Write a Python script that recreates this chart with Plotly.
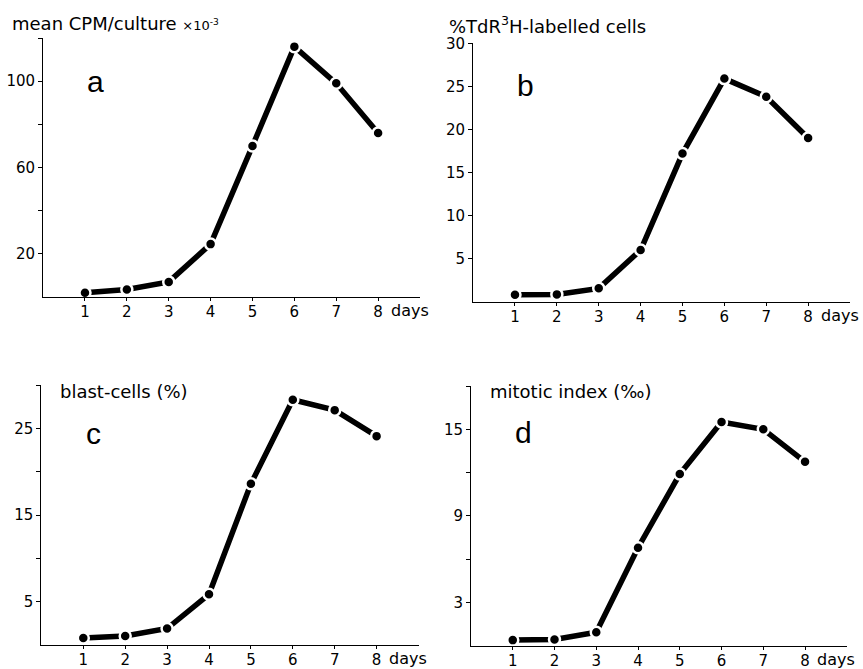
import plotly.graph_objects as go

days = [1, 2, 3, 4, 5, 6, 7, 8]
cpm = [2, 3.5, 7, 24.5, 70, 116, 99, 76]
labelled = [0.8, 0.85, 1.55, 6.0, 17.2, 25.9, 23.8, 19.0]
blast = [0.8, 1.05, 1.9, 5.85, 18.6, 28.3, 27.1, 24.1]
mitotic = [0.4, 0.45, 0.95, 6.8, 11.9, 15.5, 15.0, 12.75]

xticks = [1, 2, 3, 4, 5, 6, 7, 8]
xticktext = ["1", "2", "3", "4", "5", "6", "7", "8"]

a_tickvals = [20, 40, 60, 80, 100, 120]
a_ticktext = ["20", " ", "60", " ", "100", " "]
b_tickvals = [5, 10, 15, 20, 25, 30]
b_ticktext = ["5", "10", "15", "20", "25", "30"]
c_tickvals = [5, 10, 15, 20, 25, 30]
c_ticktext = ["5", " ", "15", " ", "25", " "]
d_tickvals = [3, 6, 9, 12, 15, 18]
d_ticktext = ["3", " ", "9", " ", "15", " "]

W, H = 863, 669
FONT = "DejaVu Sans, sans-serif"
LFONT = "Liberation Sans, Arial, sans-serif"


def px(x):
    return x / W


def py(y):
    return 1 - y / H


panels = [
    (cpm, (43.1, 420), (297, 38), 120, a_tickvals, a_ticktext, "a", (95, 82),
     "mean CPM/culture <span style='font-size:13px'>×10<sup>-3</sup></span>", (10, 23)),
    (labelled, (473.1, 850), (301.7, 43.3), 30, b_tickvals, b_ticktext, "b", (525, 85),
     "%TdR<sup>3</sup>H-labelled cells", (447, 25)),
    (blast, (41.4, 418.5), (645, 385), 30, c_tickvals, c_ticktext, "c", (93, 433),
     "blast-cells (%)", (58, 392)),
    (mitotic, (471, 846.8), (645.9, 386), 18, d_tickvals, d_ticktext, "d", (523, 432),
     "mitotic index (‰)", (488, 392)),
]

fig = go.Figure()
annotations = []
layout = {}
for i, (vals, xd, yd, ymax, tv, tt, letter, lpos, title, tpos) in enumerate(panels):
    n = "" if i == 0 else str(i + 1)
    fig.add_trace(go.Scatter(
        x=days, y=vals, mode="lines+markers",
        xaxis="x" + n, yaxis="y" + n,
        line=dict(color="black", width=5.5),
        marker=dict(color="black", size=11, line=dict(color="white", width=2.5)),
        showlegend=False, cliponaxis=False,
    ))
    layout["xaxis" + n] = dict(
        domain=[px(xd[0]), px(xd[1])], range=[0, 9], anchor="y" + n,
        tickvals=xticks, ticktext=xticktext, ticks="outside", ticklen=3,
        ticklabelstandoff=-2,
        tickwidth=1, tickcolor="black", showline=True, linecolor="black",
        linewidth=1, showgrid=False, zeroline=False, automargin=False,
        tickfont=dict(family=FONT, size=15, color="black"),
    )
    layout["yaxis" + n] = dict(
        domain=[py(yd[0]), py(yd[1])], range=[0, ymax], anchor="x" + n,
        tickvals=tv, ticktext=tt, ticks="outside", ticklen=4,
        tickwidth=1, tickcolor="black", showline=True, linecolor="black",
        linewidth=1, showgrid=False, zeroline=False, automargin=False,
        tickfont=dict(family=FONT, size=15, color="black"),
    )
    annotations.append(dict(
        text=letter, x=px(lpos[0]), y=py(lpos[1]), xref="paper", yref="paper",
        xanchor="center", yanchor="middle", showarrow=False,
        font=dict(family=LFONT, size=30, color="black"),
    ))
    annotations.append(dict(
        text=title, x=px(tpos[0]), y=py(tpos[1]), xref="paper", yref="paper",
        xanchor="left", yanchor="middle", showarrow=False,
        font=dict(family=FONT, size=18, color="black"),
    ))
    annotations.append(dict(
        text="days", x=8.25, y=0, xref="x" + n, yref=("y" + n + " domain") if n else "y domain",
        xanchor="left", yanchor="top", yshift=-2, showarrow=False,
        font=dict(family=FONT, size=16, color="black"),
    ))

fig.update_layout(
    width=W, height=H, autosize=False,
    margin=dict(l=0, r=0, t=0, b=0),
    paper_bgcolor="white", plot_bgcolor="white",
    annotations=annotations,
    **layout,
)

fig.write_html("out.html", config={"displayModeBar": False},
               post_script="document.body.style.margin='0';")
